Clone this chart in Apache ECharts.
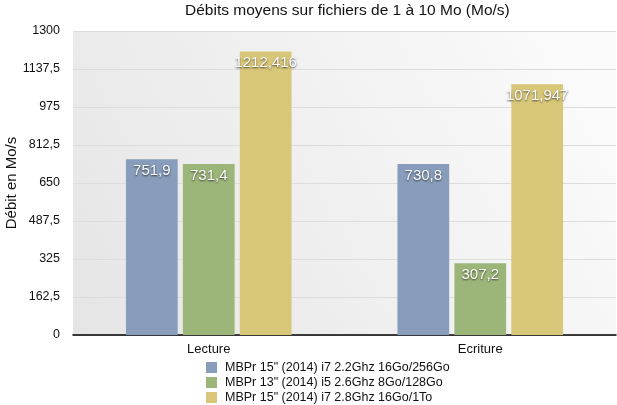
<!DOCTYPE html>
<html><head><meta charset="utf-8">
<script src="https://cdn.jsdelivr.net/npm/echarts@6/dist/echarts.min.js"></script>
<style>html,body{margin:0;padding:0;background:#fff}#c{width:617px;height:405px}</style>
</head><body><div id="c"></div>
<script>
const categories = ['Lecture', 'Ecriture'];
const seriesNames = [
  'MBPr 15" (2014) i7 2.2Ghz 16Go/256Go',
  'MBPr 13" (2014) i5 2.6Ghz 8Go/128Go',
  'MBPr 15" (2014) i7 2.8Ghz 16Go/1To'
];
const mbp15_22 = [751.9, 730.8];
const mbp13_26 = [731.4, 307.2];
const mbp15_28 = [1212.416, 1071.947];
const colors = ['#879dbb', '#9cb679', '#d9c779'];
const fmt = v => String(v).replace('.', ',');
const chart = echarts.init(document.getElementById('c'), null, {renderer: 'canvas'});
const font = '"Liberation Sans", Arial, sans-serif';
const mk = (name, data, i) => ({
  name, type: 'bar', data,
  barGap: '10%', barCategoryGap: '39%',
  itemStyle: {color: colors[i]},
  label: {
    show: true, position: 'insideTop', distance: 4,
    formatter: p => fmt(p.value),
    color: '#fff', fontSize: 15, fontFamily: font,
    textShadowColor: 'rgba(0,0,0,0.7)', textShadowBlur: 2, textShadowOffsetY: 1
  }
});
const legendTops = [361, 376, 391];
chart.setOption({
  animation: false,
  textStyle: {fontFamily: font},
  title: {text: 'Débits moyens sur fichiers de 1 à 10 Mo (Mo/s)', left: 185, top: 3, padding: 0,
    textStyle: {fontSize: 15.5, fontWeight: 'normal', color: '#111', fontFamily: font}},
  grid: {left: 73, right: 1, top: 31, bottom: 70, show: true, borderWidth: 0,
    outerBoundsMode: 'none', containLabel: false,
    backgroundColor: new echarts.graphic.LinearGradient(0, 1, 1, 0, [
      {offset: 0, color: '#e5e5e5'}, {offset: 1, color: '#fcfcfc'}])},
  legend: seriesNames.map((n, i) => ({
    orient: 'horizontal', left: 206, top: legendTops[i], padding: 0, itemWidth: 11, itemHeight: 11,
    icon: 'rect', data: [n],
    textStyle: {fontSize: 12.5, color: '#111', fontFamily: font, padding: [0, 0, 0, 3]}})),
  xAxis: {type: 'category', data: categories,
    axisLine: {lineStyle: {color: '#000', width: 1.5}}, axisTick: {show: false},
    axisLabel: {color: '#111', fontSize: 13, margin: 8, fontFamily: font}},
  yAxis: {type: 'value', min: 0, max: 1300, interval: 162.5,
    name: 'Débit en Mo/s', nameLocation: 'middle', nameGap: 54, nameMoveOverlap: false,
    nameTextStyle: {fontSize: 15, color: '#111', fontFamily: font},
    axisLine: {show: false}, axisTick: {show: false},
    axisLabel: {color: '#111', fontSize: 12.5, margin: 13, formatter: v => fmt(v), fontFamily: font},
    splitLine: {lineStyle: {color: '#dcdcdc', width: 1}}},
  series: [mk(seriesNames[0], mbp15_22, 0), mk(seriesNames[1], mbp13_26, 1), mk(seriesNames[2], mbp15_28, 2)]
});
</script></body></html>
